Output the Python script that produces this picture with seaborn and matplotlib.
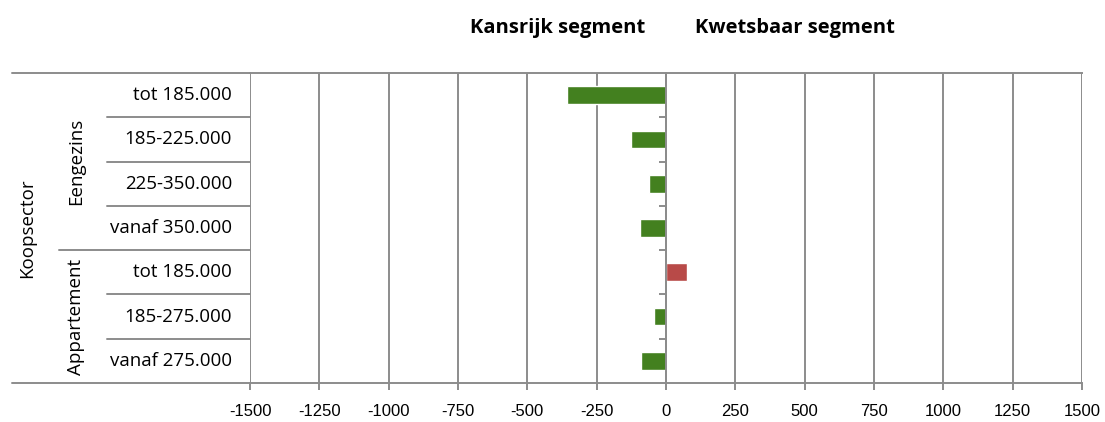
import matplotlib
matplotlib.use("Agg")
import matplotlib.pyplot as plt
from matplotlib.lines import Line2D
import seaborn as sns
import pandas as pd

# Data
row_labels = ["tot 185.000", "185-225.000", "225-350.000", "vanaf 350.000",
              "tot 185.000", "185-275.000", "vanaf 275.000"]
values = [-356, -125, -62, -93, 76, -42, -89]
groups = ["Eengezins", "Appartement"]
group_sizes = [4, 3]
sector = "Koopsector"
x_ticks = [-1500, -1250, -1000, -750, -500, -250, 0, 250, 500, 750, 1000, 1250, 1500]
header_left = "Kansrijk segment"
header_right = "Kwetsbaar segment"

GREEN = "#43801f"
RED = "#b84a48"
GREY = "#8c8c8c"
LABEL_FS = 13.5

sns.set_theme(style="white")
plt.rcParams["font.family"] = ["Open Sans", "DejaVu Sans"]
plt.rcParams["text.color"] = "black"
plt.rcParams["xtick.color"] = "black"
plt.rcParams["xtick.labelcolor"] = "black"

df = pd.DataFrame({
    "row": [f"r{i}" for i in range(len(values))],
    "value": values,
})
df["sign"] = ["pos" if v > 0 else "neg" for v in values]

fig = plt.figure(figsize=(11.05, 4.22), dpi=100)
W, H = 1105, 422
x0, x1, yt, yb = 250, 1082, 73, 383
ax = fig.add_axes([x0 / W, 1 - yb / H, (x1 - x0) / W, (yb - yt) / H])

sns.barplot(data=df, x="value", y="row", hue="sign", order=list(df["row"]),
            palette={"neg": GREEN, "pos": RED}, orient="h", dodge=False,
            width=0.4, legend=False, saturation=1, ax=ax)

ax.set_xlim(x_ticks[0], x_ticks[-1])
ax.set_ylim(len(values) - 0.5, -0.5)
ax.set_xticks(x_ticks)
ax.set_xticklabels([str(t) for t in x_ticks],
                   fontfamily=["Liberation Sans Narrow", "Liberation Sans"],
                   fontsize=12, color="black")
ax.set_xlabel("")
ax.set_ylabel("")
ax.grid(axis="x", color=GREY, linewidth=1.4)
ax.set_axisbelow(True)

# vertical category axis drawn at x = 0, ticks between rows
ax.spines["left"].set_position(("data", 0))
ax.spines["left"].set_color(GREY)
ax.spines["left"].set_linewidth(1.4)
ax.spines["right"].set_visible(False)
for s in ("top", "bottom"):
    ax.spines[s].set_color(GREY)
    ax.spines[s].set_linewidth(1.4)
ax.set_yticks([i + 0.5 for i in range(len(values) - 1)])
ax.set_yticklabels([])
ax.tick_params(axis="y", which="major", left=True, length=5, width=1.4,
               color=GREY, direction="out")
ax.tick_params(axis="x", which="major", bottom=True, length=5, width=1.4,
               color=GREY, direction="out", pad=10)

# multi-level category labels on the left
row_h = (yb - yt) / len(values)
def fx(px):
    return px / W
def fy(py):
    return 1 - py / H

for i, lab in enumerate(row_labels):
    fig.text(fx(232), fy(yt + (i + 0.5) * row_h), lab, ha="right", va="center",
             fontsize=LABEL_FS)

for py, start in [(yt, 12), (yb, 12)]:
    fig.add_artist(Line2D([fx(start), fx(x0)], [fy(py), fy(py)], color=GREY, lw=1.4))

start_row = 0
for gi, (g, n) in enumerate(zip(groups, group_sizes)):
    for k in range(1, n):
        py = yt + (start_row + k) * row_h
        fig.add_artist(Line2D([fx(107), fx(x0)], [fy(py), fy(py)], color=GREY, lw=1.4))
    if gi > 0:
        py = yt + start_row * row_h
        fig.add_artist(Line2D([fx(59), fx(x0)], [fy(py), fy(py)], color=GREY, lw=1.4))
    fig.text(fx(76), fy(yt + (start_row + n / 2) * row_h), g, rotation=90,
             ha="center", va="center", fontsize=LABEL_FS)
    start_row += n

fig.text(fx(27), fy((yt + yb) / 2), sector, rotation=90, ha="center",
         va="center", fontsize=LABEL_FS)

fig.text(fx(558), fy(28), header_left, ha="center", va="center",
         fontsize=14.5, fontweight="bold")
fig.text(fx(795), fy(28), header_right, ha="center", va="center",
         fontsize=14.5, fontweight="bold")

fig.savefig("out.png", dpi=100)
